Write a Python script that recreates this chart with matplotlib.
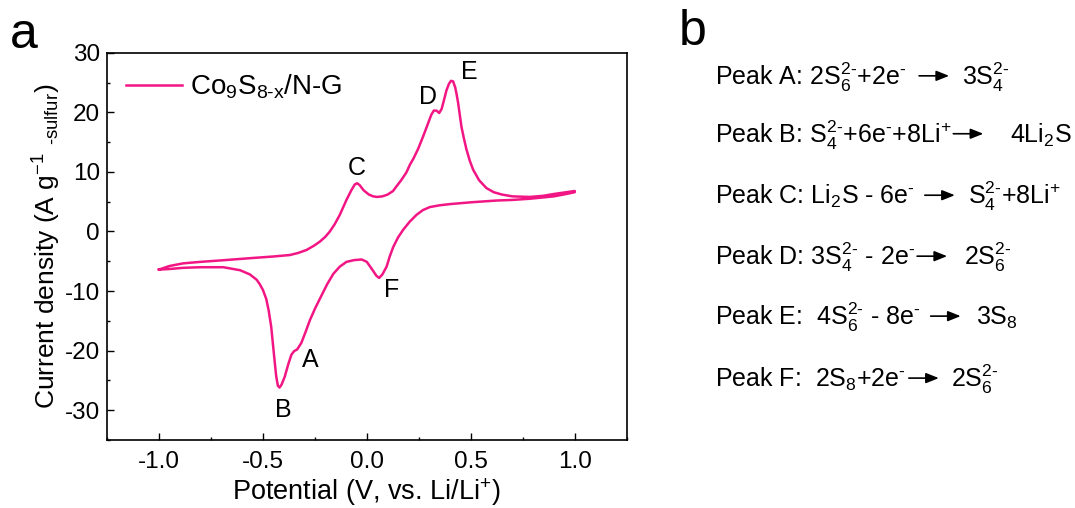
import numpy as np
import matplotlib
matplotlib.use("Agg")
from matplotlib import pyplot as plt
from matplotlib.ticker import MultipleLocator

plt.rcParams['font.family'] = ['Liberation Sans', 'DejaVu Sans']
plt.rcParams['mathtext.fontset'] = 'custom'
plt.rcParams['mathtext.rm'] = 'Liberation Sans'
plt.rcParams['mathtext.it'] = 'Liberation Sans'
plt.rcParams['mathtext.bf'] = 'Liberation Sans:bold'
plt.rcParams['mathtext.default'] = 'regular'

# anodic sweep, -1.0 V -> 1.0 V
anodic_v = [-1.0, -0.95, -0.883, -0.8, -0.7, -0.643, -0.55, -0.45, -0.37, -0.33,
            -0.29, -0.255, -0.226, -0.2, -0.178, -0.155, -0.13, -0.098, -0.075, -0.058,
            -0.047, -0.035, -0.015, 0.01, 0.03, 0.05, 0.075, 0.1, 0.126, 0.143,
            0.165, 0.19, 0.207, 0.225, 0.247, 0.27, 0.295, 0.31, 0.322, 0.335,
            0.348, 0.36, 0.372, 0.383, 0.395, 0.405, 0.415, 0.425, 0.432, 0.439,
            0.447, 0.455, 0.467, 0.479, 0.495, 0.511, 0.54, 0.575, 0.61, 0.65,
            0.7, 0.784, 0.85, 0.9, 0.96, 1.0]
anodic_i = [-6.4, -5.8, -5.35, -5.1, -4.85, -4.7, -4.45, -4.2, -3.95, -3.6,
            -3.1, -2.4, -1.7, -0.9, 0.0, 1.2, 2.8, 5.3, 6.9, 7.9,
            8.1, 7.8, 6.9, 6.2, 5.9, 5.8, 5.9, 6.2, 6.8, 7.6,
            8.6, 9.9, 11.2, 12.3, 13.9, 15.9, 18.2, 19.6, 20.3, 20.3,
            19.9, 20.6, 22.2, 23.7, 24.8, 25.3, 25.2, 24.2, 23.0, 21.6,
            19.6, 17.6, 15.6, 13.8, 11.9, 10.4, 8.6, 7.3, 6.6, 6.2,
            5.9, 5.8, 6.0, 6.3, 6.6, 6.8]

# cathodic sweep, 1.0 V -> -1.0 V
cathodic_v = [1.0, 0.96, 0.9, 0.784, 0.7, 0.624, 0.5, 0.4, 0.35, 0.303,
              0.27, 0.239, 0.205, 0.175, 0.15, 0.127, 0.11, 0.095, 0.075, 0.059,
              0.045, 0.03, 0.014, 0.0, -0.025, -0.06, -0.098, -0.13, -0.161, -0.19,
              -0.226, -0.25, -0.274, -0.295, -0.315, -0.335, -0.35, -0.363, -0.378, -0.395,
              -0.41, -0.42, -0.428, -0.436, -0.444, -0.452, -0.46, -0.472, -0.484, -0.5,
              -0.516, -0.53, -0.563, -0.61, -0.69, -0.8, -0.883, -0.95, -1.0]
cathodic_i = [6.6, 6.3, 5.9, 5.5, 5.3, 5.2, 4.9, 4.6, 4.4, 4.1,
              3.6, 2.8, 1.6, 0.3, -1.0, -2.6, -4.2, -5.9, -7.2, -7.8,
              -7.4, -6.6, -5.8, -5.1, -4.7, -4.8, -5.1, -5.9, -7.1, -8.8,
              -11.3, -13.0, -14.9, -16.9, -18.7, -19.8, -20.1, -20.7, -22.3, -24.4,
              -25.7, -26.2, -25.9, -24.3, -21.6, -18.8, -16.0, -13.3, -11.3, -9.8,
              -8.8, -8.1, -7.2, -6.5, -6.0, -6.0, -6.1, -6.3, -6.4]

peak_names = ['A', 'B', 'C', 'D', 'E', 'F']
peak_label_v = [-0.274, -0.40, -0.05, 0.295, 0.495, 0.119]
peak_label_i = [-21.6, -29.9, 10.6, 22.6, 26.8, -9.8]

# reaction for each peak: left side, right side
reaction_left = [
    r'Peak A: 2S$_6^{2\text{-}}$+2e$^{\text{-}}$',
    r'Peak B: S$_4^{2\text{-}}$+6e$^{\text{-}}$+8Li$^{+}$',
    r'Peak C: Li$_2$S - 6e$^{\text{-}}$',
    r'Peak D: 3S$_4^{2\text{-}}$ - 2e$^{\text{-}}$',
    r'Peak E:  4S$_6^{2\text{-}}$ - 8e$^{\text{-}}$',
    r'Peak F:  2S$_8$+2e$^{\text{-}}$',
]
reaction_right = [
    r'3S$_4^{2\text{-}}$',
    r'4Li$_2$S',
    r'S$_4^{2\text{-}}$+8Li$^{+}$',
    r'2S$_6^{2\text{-}}$',
    r'3S$_8$',
    r'2S$_6^{2\text{-}}$',
]

color = '#F21685'

fig = plt.figure(figsize=(10.75, 5.08), dpi=100)
ax = fig.add_axes([0.0995, 0.134, 0.4835, 0.762])

cv_v = np.concatenate([anodic_v, cathodic_v])
cv_i = np.concatenate([anodic_i, cathodic_i])
ax.plot(cv_v, cv_i, color=color, lw=1.8, label=r'Co$_9$S$_{8\text{-}x}$/N-G')

for name, v, i in zip(peak_names, peak_label_v, peak_label_i):
    ax.text(v, i, name, fontsize=18, ha='center', va='center')

ax.set_xlim(-1.25, 1.25)
ax.set_ylim(-35, 30)
ax.xaxis.set_minor_locator(MultipleLocator(0.25))
ax.yaxis.set_minor_locator(MultipleLocator(5))
ax.set_xticks([-1.0, -0.5, 0.0, 0.5, 1.0])
ax.set_xticklabels(['-1.0', '-0.5', '0.0', '0.5', '1.0'])
ax.set_yticks([-30, -20, -10, 0, 10, 20, 30])
ax.set_yticklabels(['-30', '-20', '-10', '0', '10', '20', '30'])
ax.tick_params(which='major', direction='in', length=5, width=1, labelsize=17.5)
ax.tick_params(axis='x', which='major', pad=8)
ax.tick_params(axis='y', which='major', pad=5)
ax.tick_params(which='minor', direction='in', length=2.5, width=1)
for s in ax.spines.values():
    s.set_linewidth(1.2)

ax.set_xlabel(r'Potential (V, vs. Li/Li$^{+}$)', fontsize=19.5, labelpad=2)
ax.set_ylabel(r'Current density (A g$^{-1}$ $_{\text{-sulfur}}$)', fontsize=19, labelpad=1)

ax.legend(loc='upper left', frameon=False, fontsize=20, handlelength=2.0,
          handletextpad=0.3, borderaxespad=0.3)

fig.text(0.009, 0.906, 'a', fontsize=36)
fig.text(0.631, 0.911, 'b', fontsize=36)

# panel b: reaction list, arrow drawn between the two sides
fs = 18
ys = [0.833, 0.719, 0.598, 0.478, 0.36, 0.238]
gap_before = [13, 2, 10, 2, 10, 3]
gap_after = [13, 27, 13, 17, 15, 12]
arrow_len = 30
W, H = fig.get_size_inches() * fig.dpi
renderer = fig.canvas.get_renderer()
for left, right, y, g1, g2 in zip(reaction_left, reaction_right, ys, gap_before, gap_after):
    t = fig.text(0.665, y, left, fontsize=fs)
    x_end = t.get_window_extent(renderer).x1
    ya = y * H + 0.36 * fs * fig.dpi / 72
    xa = x_end + g1
    ax.annotate('', xy=(xa + arrow_len, ya), xytext=(xa, ya), xycoords='figure pixels',
                arrowprops=dict(arrowstyle='-|>,head_length=0.55,head_width=0.22',
                                color='black', lw=1.2, shrinkA=0, shrinkB=0,
                                mutation_scale=14))
    fig.text((xa + arrow_len + g2) / W, y, right, fontsize=fs)

fig.savefig('out.png', dpi=100)
